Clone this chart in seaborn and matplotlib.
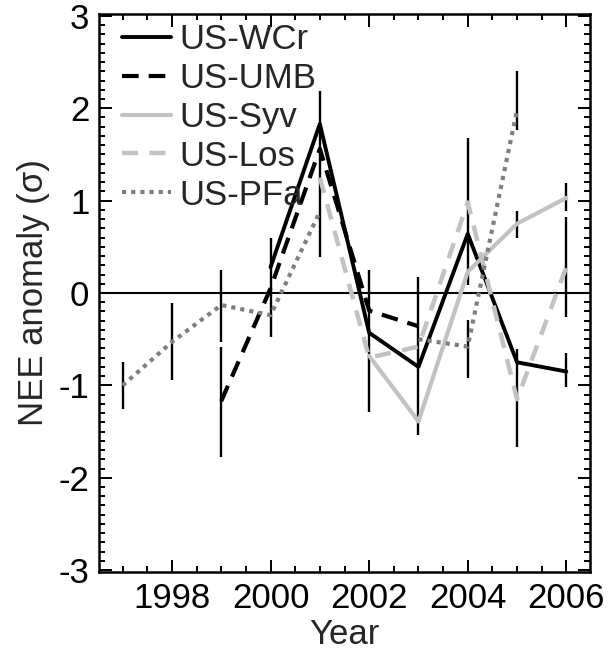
import numpy as np
import pandas as pd
import matplotlib
matplotlib.use("Agg")
import matplotlib.pyplot as plt
from matplotlib.ticker import MultipleLocator
import seaborn as sns

nan = np.nan
years = [1997, 1998, 1999, 2000, 2001, 2002, 2003, 2004, 2005, 2006]
us_wcr = [nan, nan, nan, 0.28, 1.83, -0.43, -0.80, 0.64, -0.75, -0.85]
us_umb = [nan, nan, -1.17, 0.05, 1.56, -0.19, -0.36, nan, nan, nan]
us_syv = [nan, nan, nan, nan, nan, -0.68, -1.39, 0.23, 0.75, 1.03]
us_los = [nan, nan, nan, nan, 1.25, -0.70, -0.58, 0.98, -1.15, 0.28]
us_pfa = [-1.00, -0.53, -0.13, -0.24, 0.88, nan, -0.50, -0.58, 1.98, nan]

site_names = ["US-WCr", "US-UMB", "US-Syv", "US-Los", "US-PFa"]

err_year = [1997, 1998, 1999, 1999, 2000, 2001, 2002, 2003, 2004, 2004,
            2005, 2005, 2005, 2006, 2006, 2006]
err_low = [-1.26, -0.94, -0.53, -1.77, -0.48, 0.39, -1.29, -1.54, 0.09, -0.92,
           1.76, 0.59, -1.67, 0.89, -0.26, -1.02]
err_high = [-0.75, -0.11, 0.25, -0.58, 0.60, 2.19, 0.25, 0.17, 1.68, -0.29,
            2.40, 0.89, -0.61, 1.19, 0.82, -0.65]

y_ticks = [-3, -2, -1, 0, 1, 2, 3]
x_ticks = [1998, 2000, 2002, 2004, 2006]

styles = {
    "US-WCr": dict(color="black", linewidth=2.8, linestyle="-"),
    "US-UMB": dict(color="black", linewidth=3.0, linestyle=(0, (4.0, 2.4))),
    "US-Syv": dict(color="#c2c2c2", linewidth=3.0, linestyle="-"),
    "US-Los": dict(color="#c2c2c2", linewidth=3.2, linestyle=(0, (3.6, 2.6))),
    "US-PFa": dict(color="#7f7f7f", linewidth=3.0, linestyle=(0, (1.0, 1.2))),
}

# build long table with segment ids (breaks at missing values)
rows = []
for name, vals in zip(site_names, [us_wcr, us_umb, us_syv, us_los, us_pfa]):
    seg = 0
    prev_nan = True
    for yr, v in zip(years, vals):
        if np.isnan(v):
            prev_nan = True
            continue
        if prev_nan:
            seg += 1
        prev_nan = False
        rows.append(dict(site=name, year=yr, nee=v, seg=seg))
df = pd.DataFrame(rows)

sns.set_theme(style="ticks")
plt.rcParams["font.family"] = ["Liberation Sans", "DejaVu Sans"]
plt.rcParams["axes.unicode_minus"] = False

FS = 25
W, H = 613, 656
fig = plt.figure(figsize=(W / 100, H / 100), dpi=100)
ax = fig.add_axes([99 / W, 1 - 572 / H, (590 - 99) / W, (572 - 14) / H])

ax.axhline(0, color="black", linewidth=1.5, zorder=1)

ax.vlines(err_year, err_low, err_high, color="black", linewidth=1.7, zorder=2)

for name in site_names:
    sub = df[df.site == name]
    sns.lineplot(data=sub, x="year", y="nee", units="seg", estimator=None,
                 ax=ax, label=name, legend=True, zorder=3, **styles[name])

ax.set_xlim(1996.52, 2006.48)
ax.set_ylim(-3.02, 3.02)
ax.set_yticks(y_ticks)
ax.set_yticklabels([str(t) for t in y_ticks])
ax.set_xticks(x_ticks)
ax.set_xticklabels([str(t) for t in x_ticks])
ax.xaxis.set_minor_locator(MultipleLocator(0.5))
ax.yaxis.set_minor_locator(MultipleLocator(0.1))
ax.tick_params(which="both", direction="in", top=True, right=True,
               labelsize=FS, colors="black", width=1.4)
ax.tick_params(which="major", length=9, pad=7)
ax.tick_params(which="minor", length=4.5)
for s in ax.spines.values():
    s.set_linewidth(1.8)
    s.set_color("black")

ax.set_xlabel("Year", fontsize=FS, labelpad=2)
ax.set_ylabel("NEE anomaly (σ)", fontsize=FS, labelpad=6)

handles, labels = ax.get_legend_handles_labels()
uniq = {}
for h, l in zip(handles, labels):
    if l not in uniq:
        uniq[l] = h
leg = ax.legend(list(uniq.values()), list(uniq.keys()), loc="upper left",
                bbox_to_anchor=(0.047, 0.984),
                frameon=False, fontsize=FS,
                handlelength=1.4, handletextpad=0.25, labelspacing=0.17,
                borderaxespad=0.0, borderpad=0.0)

fig.savefig("out.png", dpi=100)
